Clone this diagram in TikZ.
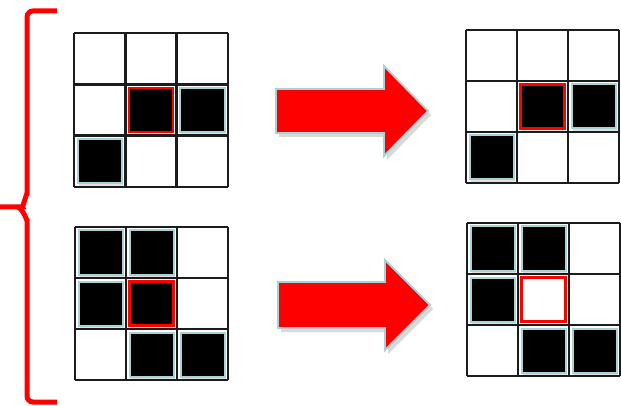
\documentclass[tikz,border=0pt]{standalone}
\usetikzlibrary{calc}
\definecolor{edgeblue}{HTML}{A8D3D6}
\definecolor{gridline}{HTML}{1C1C1C}
\tikzset{
  gridstroke/.style={draw=gridline, line width=2.6pt},
  blackcell/.style={fill=black, draw=edgeblue, line width=2pt},
  redcell/.style={fill=black, draw=red, line width=2.2pt},
  redwhite/.style={fill=white, draw=red, line width=2.2pt},
  cellshadow/.style={fill=black, opacity=0.12},
  bigarrow/.style={fill=red, draw=edgeblue, line width=1.8pt, line join=miter},
  arrowshadow/.style={fill=black, opacity=0.15},
  bracestroke/.style={draw=red, line width=5pt}
}
\newcommand\drawgrid[3]{%
  \fill[white] (#1,#2) rectangle ++(#3,#3);
  \foreach \i in {0,1,2,3}{
    \draw[gridstroke] ({#1+\i*#3/3},#2) -- ++(0,#3);
    \draw[gridstroke] (#1,{#2+\i*#3/3}) -- ++(#3,0);
  }}
\newcommand\cellsq[6]{%
  \fill[cellshadow] ({#1+#5*#3/3+3.5+1},{#2+#4*#3/3+3.5+3}) rectangle ++({#3/3-7},{#3/3-7});
  \draw[#6] ({#1+#5*#3/3+3.5},{#2+#4*#3/3+3.5}) rectangle ++({#3/3-7},{#3/3-7});}
\begin{document}
\begin{tikzpicture}[x=1pt,y=-1pt]
\useasboundingbox (0,0) rectangle (621,406);
\fill[white] (0,0) rectangle (621,406);

% brace
\draw[bracestroke, rounded corners=6pt] (57,11) -- (27,11) -- (27,199) to[out=90,in=0] (17,207) -- (0,207);
\draw[bracestroke, rounded corners=6pt] (17,207) to[out=0,in=-90] (27,215) -- (27,402) -- (57,402);

% top-left grid
\drawgrid{74}{33}{154}
\cellsq{74}{33}{154}{1}{1}{redcell}
\cellsq{74}{33}{154}{1}{2}{blackcell}
\cellsq{74}{33}{154}{2}{0}{blackcell}

% top-right grid
\drawgrid{466}{30}{153}
\cellsq{466}{30}{153}{1}{1}{redcell}
\cellsq{466}{30}{153}{1}{2}{blackcell}
\cellsq{466}{30}{153}{2}{0}{blackcell}

% bottom-left grid
\drawgrid{75}{227}{153}
\cellsq{75}{227}{153}{0}{0}{blackcell}
\cellsq{75}{227}{153}{0}{1}{blackcell}
\cellsq{75}{227}{153}{1}{0}{blackcell}
\cellsq{75}{227}{153}{1}{1}{redcell}
\cellsq{75}{227}{153}{2}{1}{blackcell}
\cellsq{75}{227}{153}{2}{2}{blackcell}

% bottom-right grid
\drawgrid{467}{223}{153}
\cellsq{467}{223}{153}{0}{0}{blackcell}
\cellsq{467}{223}{153}{0}{1}{blackcell}
\cellsq{467}{223}{153}{1}{0}{blackcell}
\draw[redwhite] ({467+153/3+3.5},{223+153/3+3.5}) rectangle ++({153/3-7},{153/3-7});
\cellsq{467}{223}{153}{2}{1}{blackcell}
\cellsq{467}{223}{153}{2}{2}{blackcell}

% arrows
\fill[arrowshadow] (279,93) -- (387,93) -- (387,70) -- (431,115) -- (387,160) -- (387,137) -- (279,137) -- cycle;
\draw[bigarrow] (276,89) -- (384,89) -- (384,66) -- (428,111) -- (384,156) -- (384,133) -- (276,133) -- cycle;
\fill[arrowshadow] (281,286) -- (388,286) -- (388,264) -- (433,309) -- (388,354) -- (388,332) -- (281,332) -- cycle;
\draw[bigarrow] (278,282) -- (385,282) -- (385,260) -- (430,305) -- (385,350) -- (385,328) -- (278,328) -- cycle;
\end{tikzpicture}
\end{document}
